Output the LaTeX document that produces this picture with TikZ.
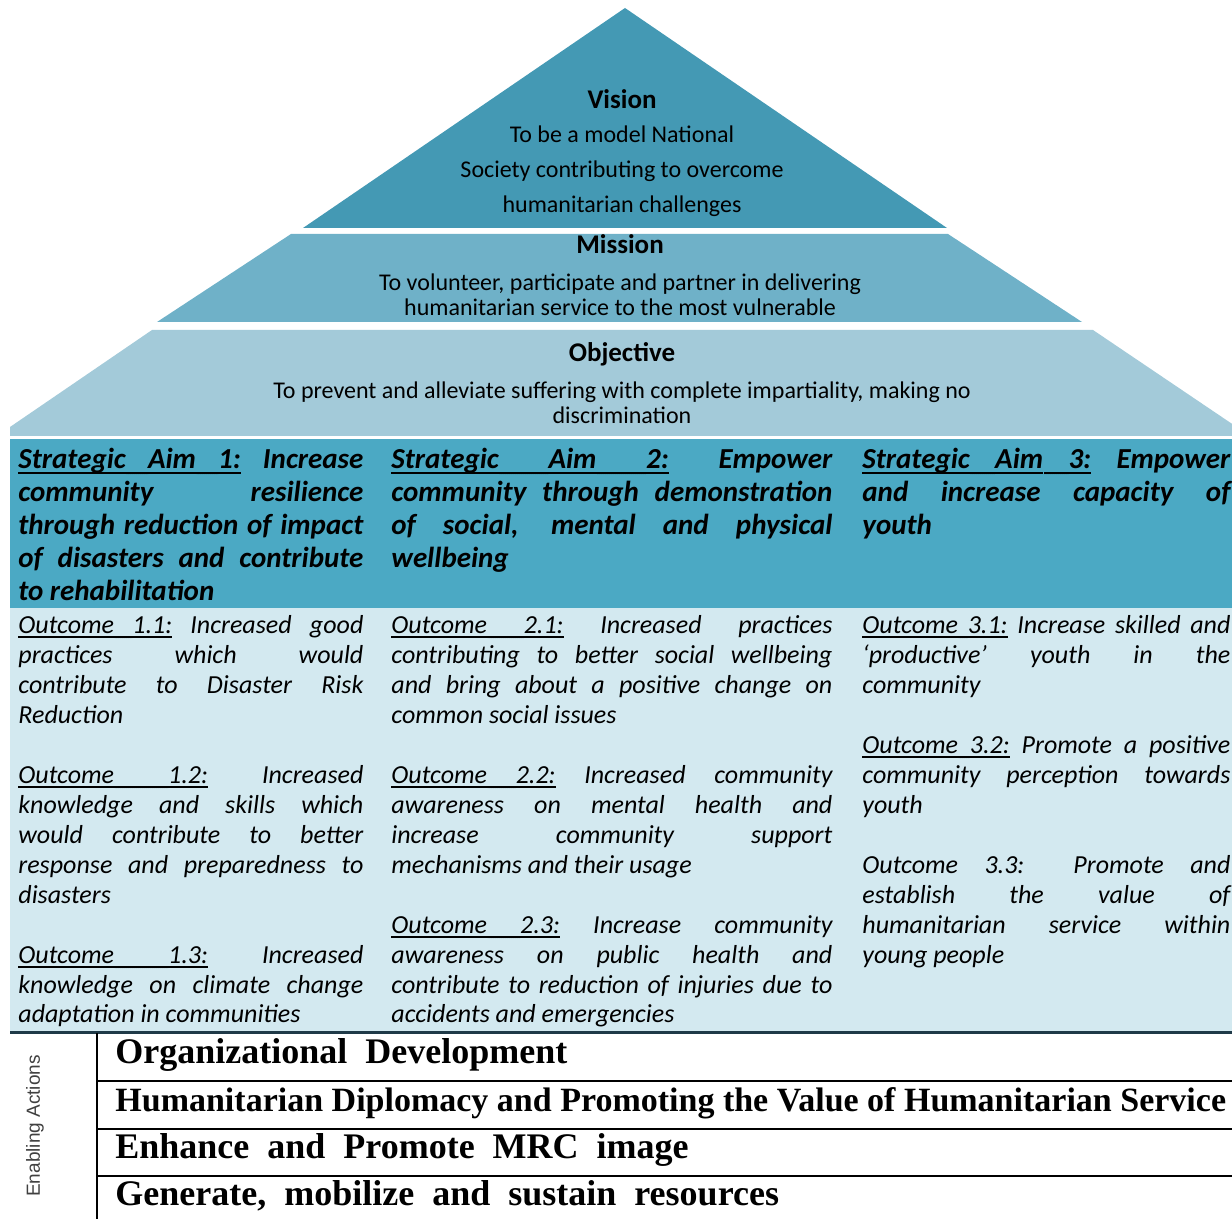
\documentclass[tikz,border=0pt]{standalone}
\usepackage{fontspec}
\setmainfont{Carlito}
\newfontfamily\actfont[WordSpace=2]{Liberation Serif}
\newfontfamily\sidefont{Liberation Sans}
\definecolor{visionblue}{HTML}{4499B4}
\definecolor{missionblue}{HTML}{6FB1C8}
\definecolor{objectiveblue}{HTML}{A3CAD9}
\definecolor{aimblue}{HTML}{4BA9C4}
\definecolor{outcomeblue}{HTML}{D3E9F0}
\definecolor{ruleblue}{HTML}{1F3A48}
\newcommand{\outgap}{\par\vspace{15pt}}
% underlined words whose gaps stretch with the line
\newcommand{\uword}[1]{\leavevmode\setbox0\hbox{#1}\rlap{\vrule height -1.6pt depth 2.6pt width \wd0}\box0\relax}
\newcommand{\ulgap}{\leaders\hbox{\vrule height -1.6pt depth 2.6pt width 0.2pt}\hskip\fontdimen2\font plus\fontdimen3\font minus\fontdimen4\font\relax}
\newcommand{\ultwo}[2]{\uword{#1}\ulgap\uword{#2}}
\newcommand{\ulthree}[3]{\uword{#1}\ulgap\uword{#2}\ulgap\uword{#3}}

\begin{document}
\begin{tikzpicture}[x=0.5pt,y=-0.5pt,
heading/.style={
% The text:
font=\fontsize{13.5}{16}\selectfont\bfseries,
% The spacing:
inner sep=0pt,
anchor=base
},
tier/.style={
% The text:
font=\fontsize{12}{12.5}\selectfont,
align=center,
% The spacing (base is the last line):
inner sep=0pt,
anchor=base
},
aim/.style={
% The text:
font=\fontsize{14.5}{16.5}\selectfont\bfseries\itshape,
align=justify,
% The spacing:
inner sep=0pt,
anchor=base west
},
outcome/.style={
% The text:
font=\fontsize{13}{15}\selectfont\itshape,
align=justify,
% The spacing:
inner sep=0pt,
anchor=base west
},
action/.style={
% The text:
font=\actfont\fontsize{18}{20}\selectfont\bfseries,
% The spacing:
inner sep=0pt,
anchor=base west
}]
\useasboundingbox (0,0) rectangle (1232,1219);

% the pyramid
\fill [visionblue] (625,8) -- (947,228) -- (303,228) -- cycle;
\fill [missionblue] (291,234) -- (948,234) -- (1082,322) -- (157,322) -- cycle;
\fill [objectiveblue] (152,330) -- (1093,330) -- (1250,436) -- (10,436) -- (10,427) -- cycle;

\node [heading] (vision) at (622,109) {Vision};
\node [tier, font=\fontsize{12}{17.5}\selectfont] (visiontext) at (622,213)
  {To be a model National\\Society contributing to overcome\\humanitarian challenges};
\node [heading] (mission) at (620,254) {Mission};
\node [tier] (missiontext) at (620,316)
  {To volunteer, participate and partner in delivering\\humanitarian service to the most vulnerable};
\node [heading] (objective) at (622,362) {Objective};
\node [tier] (objectivetext) at (622,424)
  {To prevent and alleviate suffering with complete impartiality, making no\\discrimination};

% the table
\fill [aimblue] (10,439) rectangle (1240,608);
\fill [outcomeblue] (10,608) rectangle (1240,1031);
\draw [ruleblue, line width=1.5pt] (10,1032) -- (1240,1032);

\node [aim, text width=172.5pt] (aim1) at (18,469)
  {\ulthree{Strategic}{Aim}{1:} Increase\linebreak community resilience\linebreak through reduction of impact\linebreak of disasters and contribute\linebreak to rehabilitation};
\node [aim, text width=220.5pt] (aim2) at (391,469)
  {\ulthree{Strategic}{Aim}{2:} Empower\linebreak community through demonstration\linebreak of social, mental and physical\linebreak wellbeing};
\node [aim, text width=184pt] (aim3) at (862,469)
  {\ulthree{Strategic}{Aim}{3:} Empower\linebreak and increase capacity of\linebreak youth};

\node [outcome, text width=172.5pt] (out1) at (18,633)
  {\ultwo{Outcome}{1.1:} Increased good\linebreak practices which would\linebreak contribute to Disaster Risk\linebreak Reduction\outgap
   \ultwo{Outcome}{1.2:} Increased\linebreak knowledge and skills which\linebreak would contribute to better\linebreak response and preparedness to\linebreak disasters\outgap
   \ultwo{Outcome}{1.3:} Increased\linebreak knowledge on climate change\linebreak adaptation in communities};
\node [outcome, text width=220.5pt] (out2) at (391,633)
  {\ultwo{Outcome}{2.1:} Increased practices\linebreak contributing to better social wellbeing\linebreak and bring about a positive change on\linebreak common social issues\outgap
   \ultwo{Outcome}{2.2:} Increased community\linebreak awareness on mental health and\linebreak increase community support\linebreak mechanisms and their usage\outgap
   \ultwo{Outcome}{2.3:} Increase community\linebreak awareness on public health and\linebreak contribute to reduction of injuries due to\linebreak accidents and emergencies};
\node [outcome, text width=184pt] (out3) at (862,633)
  {\ultwo{Outcome}{3.1:} Increase skilled and\linebreak ‘productive’ youth in the\linebreak community\outgap
   \ultwo{Outcome}{3.2:} Promote a positive\linebreak community perception towards\linebreak youth\outgap
   Outcome 3.3: Promote and\linebreak establish the value of\linebreak humanitarian service within\linebreak young people};

% enabling actions
\draw [line width=1pt] (97,1033) -- (97,1219);
\draw [line width=1pt] (97,1081) -- (1240,1081);
\draw [line width=1pt] (97,1129) -- (1240,1129);
\draw [line width=1pt] (97,1176) -- (1240,1176);

\node [rotate=90, inner sep=0pt, font=\sidefont\fontsize{9.5}{11}\selectfont, text=black!75] (enabling) at (35,1126) {Enabling Actions};
\node [action] (develop) at (115,1063) {Organizational Development};
\node [action, font=\actfont\fontsize{17}{20}\selectfont\bfseries] (diplomacy) at (115,1111)
  {\spaceskip0.25em\relax Humanitarian Diplomacy and Promoting the Value of Humanitarian Service};
\node [action] (image) at (115,1158) {Enhance and Promote MRC image};
\node [action] (resources) at (115,1205) {Generate, mobilize and sustain resources};
\end{tikzpicture}
\end{document}
